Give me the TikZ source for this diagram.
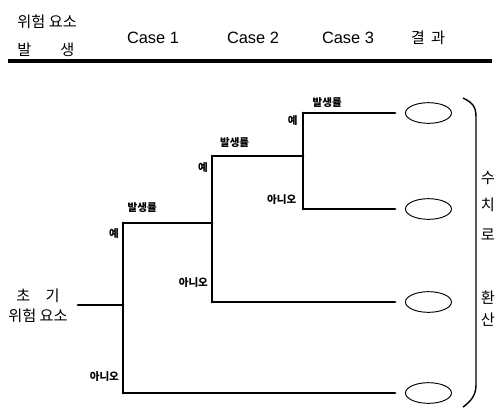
\documentclass[tikz,border=0pt]{standalone}
\usepackage{fontspec}
\setmainfont{Noto Sans CJK KR}
\newfontfamily\latinfont{Liberation Sans}
\usetikzlibrary{shapes.geometric, positioning}

\begin{document}
\begin{tikzpicture}[
    x=0.03cm, y=-0.03cm,
    head/.style={font=\fontsize{13}{15}\selectfont, inner sep=1pt},
    casehead/.style={font=\latinfont\fontsize{14}{16}\selectfont, inner sep=1pt},
    branch/.style={line width=2.5pt, line cap=round},
    tag/.style={font=\fontsize{9}{10}\selectfont\bfseries, inner sep=1pt},
    outcome/.style={ellipse, draw, line width=0.8pt, minimum width=1.38cm, minimum height=0.62cm, inner sep=0pt},
    side/.style={font=\fontsize{13}{15}\selectfont, inner sep=1pt}
]
\useasboundingbox (0,0) rectangle (497,408);

% header
\node[head, anchor=west] (h0) at (16,22) {위험 요소};
\node[head, anchor=west] (h0b) at (16,50) {발\hspace{1.9em}생};
\node[casehead] (c1) at (153,38) {Case 1};
\node[casehead] (c2) at (253,38) {Case 2};
\node[casehead] (c3) at (348,38) {Case 3};
\node[head] (res) at (428,38) {결\hspace{0.4em}과};
\draw[line width=3pt] (8,61) -- (492,61);

% tree junctions
\node[head, align=center] (init) at (38,306) {초\hspace{1em}기\\[2pt]위험 요소};
\coordinate (root) at (78,305);
\coordinate (j1) at (123,305);
\coordinate (j1t) at (123,223);
\coordinate (j1b) at (123,393);
\coordinate (j2) at (212,223);
\coordinate (j2t) at (212,156);
\coordinate (j2b) at (212,302);
\coordinate (j3) at (303,156);
\coordinate (j3t) at (303,113);
\coordinate (j3b) at (303,209);
\coordinate (e1) at (395,113);
\coordinate (e2) at (395,209);
\coordinate (e3) at (395,302);
\coordinate (e4) at (395,393);

\draw[branch] (root) -- (j1);
\draw[branch] (j1t) -- (j1b);
\draw[branch] (j1t) -- (j2);
\draw[branch] (j2t) -- (j2b);
\draw[branch] (j2t) -- (j3);
\draw[branch] (j3t) -- (j3b);
\draw[branch] (j3t) -- (e1);
\draw[branch] (j3b) -- (e2);
\draw[branch] (j2b) -- (e3);
\draw[branch] (j1b) -- (e4);

% branch labels
\node[tag, above right=0.26cm and 0.1cm of j1t] (r1) {발생률};
\node[tag, below left=0.12cm and 0.08cm of j1t] (y1) {예};
\node[tag, above left=0.3cm and 0.08cm of j1b] (n1) {아니오};
\node[tag, above right=0.2cm and 0.2cm of j2t] (r2) {발생률};
\node[tag, below left=0.15cm and 0.08cm of j2t] (y2) {예};
\node[tag, above left=0.4cm and 0.08cm of j2b] (n2) {아니오};
\node[tag, above right=0.12cm and 0.25cm of j3t] (r3) {발생률};
\node[tag, below left=0.04cm and 0.12cm of j3t] (y3) {예};
\node[tag, above left=0.1cm and 0.16cm of j3b] (n3) {아니오};

% outcomes
\node[outcome, right=0.3cm of e1] (o1) {};
\node[outcome, right=0.3cm of e2] (o2) {};
\node[outcome, right=0.3cm of e3] (o3) {};
\node[outcome, right=0.3cm of e4] (o4) {};

% bracket and side text
\draw[line width=1.2pt] (463,98) .. controls (476,104) and (476,110) .. (476,120) -- (476,385) .. controls (476,396) and (470,402) .. (463,407);
\node[side] (v1) at (488,178) {수};
\node[side] (v2) at (488,205) {치};
\node[side] (v3) at (488,235) {로};
\node[side] (v4) at (488,298) {환};
\node[side] (v5) at (488,320) {산};
\end{tikzpicture}
\end{document}
